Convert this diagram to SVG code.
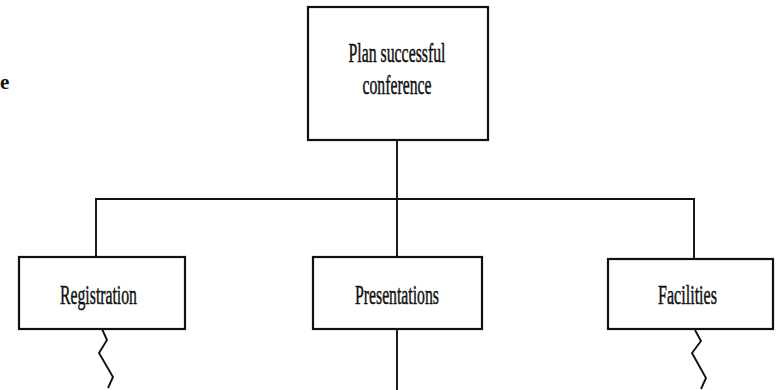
<svg xmlns="http://www.w3.org/2000/svg" width="778" height="390" viewBox="0 0 778 390">
  <style>
    .box { fill: #ffffff; stroke: #111111; stroke-width: 2.2; }
    .lbl { font-family: "Liberation Serif", "Times New Roman", serif; font-size: 28px; fill: #111111; stroke: #111111; stroke-width: 0.5; text-anchor: middle; }
    .wire { fill: none; stroke: #111111; stroke-width: 1.9; stroke-linejoin: miter; }
    .margin { font-family: "Liberation Serif", "Times New Roman", serif; font-size: 21px; font-weight: bold; fill: #111111; }
  </style>
  <rect width="778" height="390" fill="#ffffff"/>

  <text class="margin" x="0" y="89">e</text>

  <g id="connectors">
    <line class="wire" x1="397" y1="140" x2="397" y2="257"/>
    <line class="wire" x1="95" y1="199" x2="695" y2="199"/>
    <line class="wire" x1="96" y1="199" x2="96" y2="257"/>
    <line class="wire" x1="694" y1="199" x2="694" y2="259"/>
    <line class="wire" x1="397" y1="329" x2="397" y2="390"/>
    <polyline class="wire" points="102,329 107,340 99,353 113,377 108,388"/>
    <polyline class="wire" points="695,330 701,341 692,353 706,378 701,389"/>
  </g>

  <g id="plan-conference">
    <rect class="box" x="308" y="7" width="180" height="133"/>
    <text class="lbl" x="397" y="62" textLength="97" lengthAdjust="spacingAndGlyphs">Plan successful</text>
    <text class="lbl" x="397" y="94" textLength="69" lengthAdjust="spacingAndGlyphs">conference</text>
  </g>

  <g id="registration">
    <rect class="box" x="19" y="257" width="166" height="72"/>
    <text class="lbl" x="98.5" y="304" textLength="77" lengthAdjust="spacingAndGlyphs">Registration</text>
  </g>

  <g id="presentations">
    <rect class="box" x="313" y="257" width="169" height="72"/>
    <text class="lbl" x="397" y="304" textLength="84" lengthAdjust="spacingAndGlyphs">Presentations</text>
  </g>

  <g id="facilities">
    <rect class="box" x="608" y="259" width="165" height="70"/>
    <text class="lbl" x="687.5" y="304" textLength="59" lengthAdjust="spacingAndGlyphs">Facilities</text>
  </g>
</svg>
